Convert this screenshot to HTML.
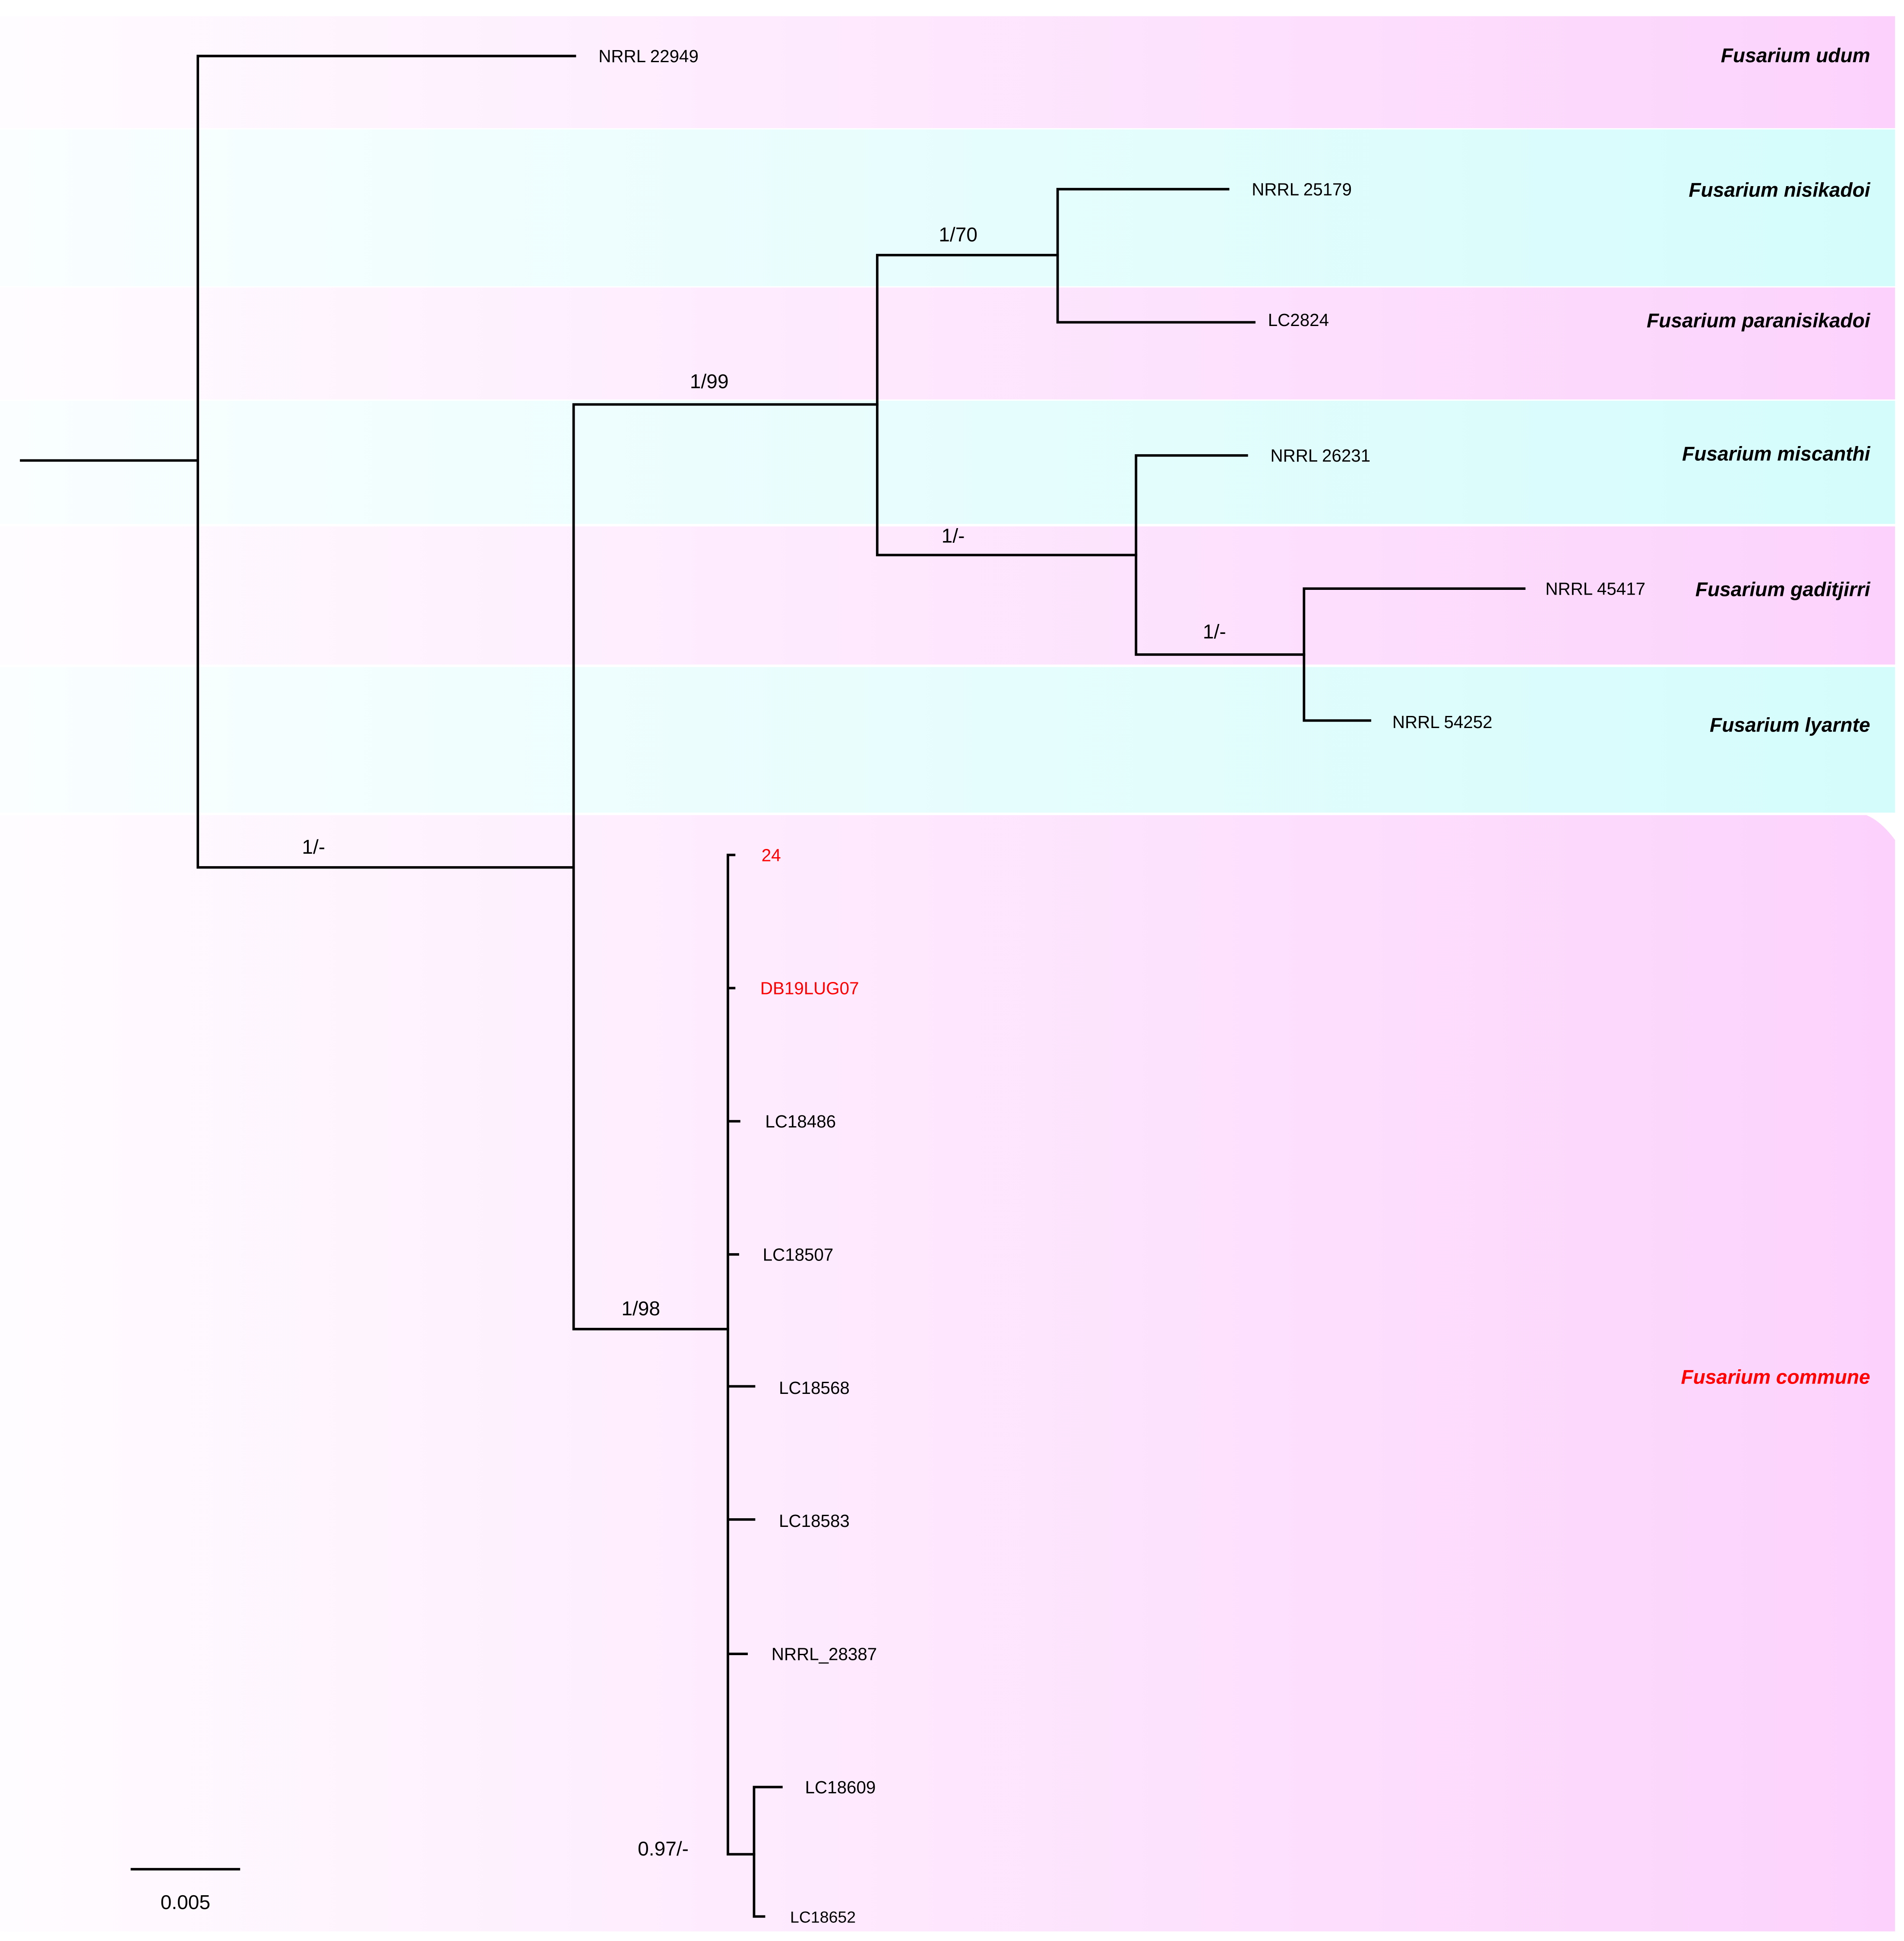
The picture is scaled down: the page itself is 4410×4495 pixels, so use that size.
<!DOCTYPE html>
<html><head><meta charset="utf-8">
<style>
html,body{margin:0;padding:0;background:#fff;}
svg{display:block;}
text{font-family:"Liberation Sans",sans-serif;}
</style></head>
<body>
<svg width="4410" height="4495" viewBox="0 0 1530.2 1559.7" preserveAspectRatio="none" xmlns="http://www.w3.org/2000/svg">
<defs>
<linearGradient id="pk" x1="0" x2="1" y1="0" y2="0">
<stop offset="0" stop-color="#fffcff"/><stop offset="1" stop-color="#fcd2fc"/></linearGradient>
<linearGradient id="cy" x1="0" x2="1" y1="0" y2="0">
<stop offset="0" stop-color="#fafeff"/><stop offset="1" stop-color="#d4fcfb"/></linearGradient>
</defs>
<rect width="1530.2" height="1559.7" fill="#fff"/>
<rect x="0" y="13" width="1523" height="90" fill="url(#pk)"/>
<rect x="0" y="104" width="1523" height="126" fill="url(#cy)"/>
<rect x="0" y="231" width="1523" height="90" fill="url(#pk)"/>
<rect x="0" y="322" width="1523" height="99" fill="url(#cy)"/>
<rect x="0" y="423" width="1523" height="111" fill="url(#pk)"/>
<rect x="0" y="536" width="1523" height="117" fill="url(#cy)"/>
<path d="M0 655 H1500 Q1512 660 1523 675 V1552 H0 Z" fill="url(#pk)"/>

<g stroke="#000" stroke-width="2" fill="none" stroke-linecap="square">
<path d="M17 370H159 M159 45V697 M159 45H462 M159 697H461"/>
<path d="M461 325V1068 M461 325H705 M461 1068H585"/>
<path d="M705 205V446 M705 205H850 M705 446H913"/>
<path d="M850 152V259 M850 152H987 M850 259H1008"/>
<path d="M913 366V526 M913 366H1002 M913 526H1048"/>
<path d="M1048 473V579 M1048 473H1225 M1048 579H1101"/>
<path d="M585 687V1490 M585 687H590 M585 794H590 M585 901H594 M585 1008H593 M585 1114H606 M585 1221H606 M585 1329H600 M585 1490H606"/>
<path d="M606 1436V1540 M606 1436H628 M606 1540H614"/>
<path d="M106 1502H192"/>
</g>

<g font-size="14" fill="#000">
<text x="481" y="50">NRRL 22949</text>
<text x="1006" y="157">NRRL 25179</text>
<text x="1019" y="262">LC2824</text>
<text x="1021" y="371">NRRL 26231</text>
<text x="1242" y="478">NRRL 45417</text>
<text x="1119" y="585">NRRL 54252</text>
<text x="612" y="692" fill="#f00">24</text>
<text x="611" y="799" fill="#f00">DB19LUG07</text>
<text x="615" y="906">LC18486</text>
<text x="613" y="1013">LC18507</text>
<text x="626" y="1120">LC18568</text>
<text x="626" y="1227">LC18583</text>
<text x="620" y="1334">NRRL_28387</text>
<text x="647" y="1441">LC18609</text>
<text x="635" y="1545" font-size="13">LC18652</text>
</g>
<g font-size="16" fill="#000" text-anchor="middle">
<text x="252" y="686">1/-</text>
<text x="570" y="312">1/99</text>
<text x="515" y="1057">1/98</text>
<text x="770" y="194">1/70</text>
<text x="766" y="436">1/-</text>
<text x="976" y="513">1/-</text>
<text x="533" y="1491">0.97/-</text>
<text x="149" y="1534">0.005</text>
</g>
<g font-size="16" font-weight="bold" font-style="italic" text-anchor="end" fill="#000">
<text x="1503" y="50">Fusarium udum</text>
<text x="1503" y="158">Fusarium nisikadoi</text>
<text x="1503" y="263">Fusarium paranisikadoi</text>
<text x="1503" y="370">Fusarium miscanthi</text>
<text x="1503" y="479">Fusarium gaditjirri</text>
<text x="1503" y="588">Fusarium lyarnte</text>
<text x="1503" y="1112" fill="#f00">Fusarium commune</text>
</g>
</svg>
</body></html>
